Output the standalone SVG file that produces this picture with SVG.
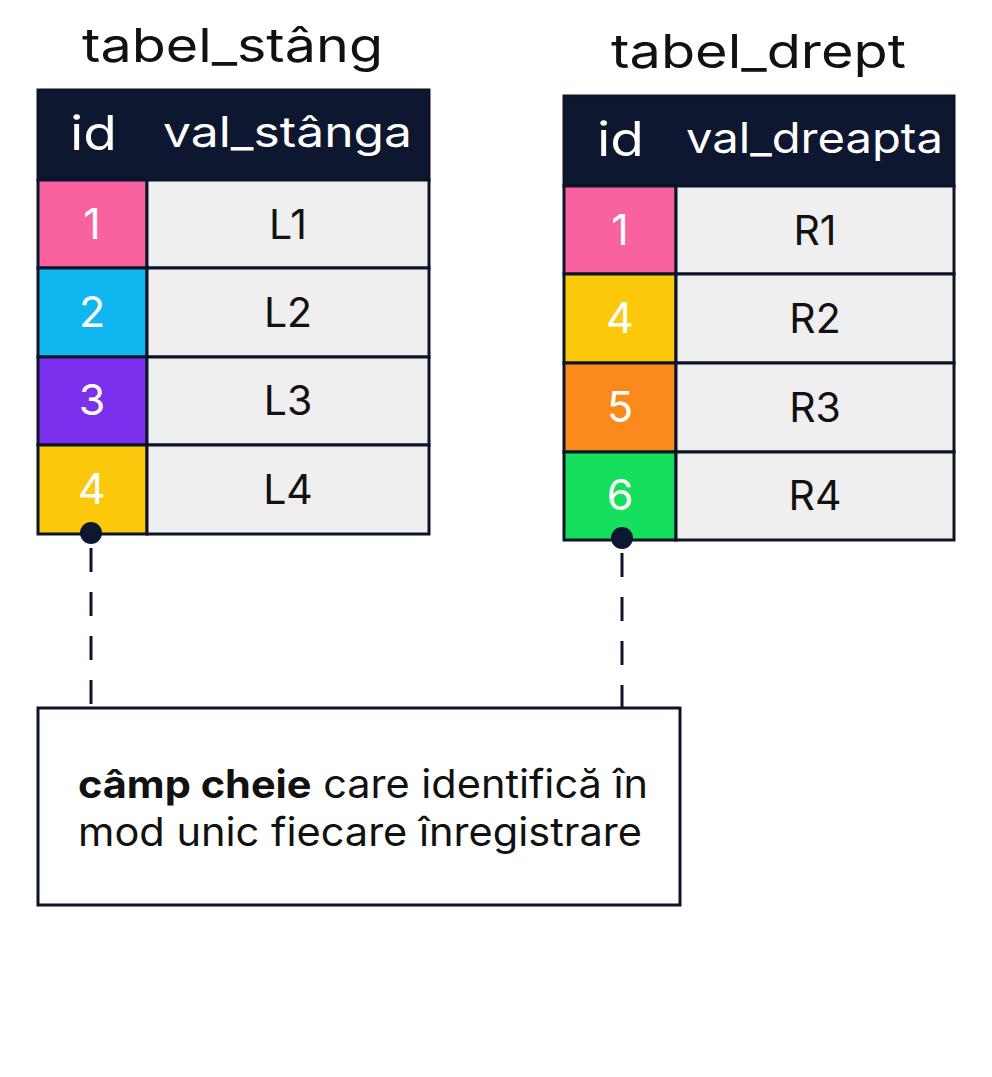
<svg xmlns="http://www.w3.org/2000/svg" width="992" height="1077" viewBox="0 0 992 1077">
<style>
.title{font-family:Inter,"Noto Sans",sans-serif;font-size:47px;fill:#111}
.hd{font-family:Inter,"Noto Sans",sans-serif;fill:#fff}
.num{font-family:Inter,"Noto Sans",sans-serif;font-size:43px;fill:#fff;text-anchor:middle}
.val{font-family:Inter,"Noto Sans",sans-serif;font-size:41px;fill:#111;text-anchor:middle}
.cell{stroke:#0b1428;stroke-width:3}
.note{font-family:Inter,"Noto Sans",sans-serif;font-size:39px;fill:#111}
.dash{stroke:#0b1428;stroke-width:3;stroke-dasharray:24 20;fill:none}
</style>
<rect width="992" height="1077" fill="#fff"/>
<g id="tabel_stang">
<text class="title" x="82" y="62" textLength="301" lengthAdjust="spacingAndGlyphs">tabel_stâng</text>
<rect class="cell" x="38" y="90" width="391" height="90" fill="#0d1730"/>
<text class="hd" x="70" y="150" font-size="48" textLength="47" lengthAdjust="spacingAndGlyphs">id</text>
<text class="hd" x="163" y="147" font-size="42" textLength="249" lengthAdjust="spacingAndGlyphs">val_stânga</text>
<rect class="cell" x="38" y="180" width="109" height="88" fill="#f7629f"/>
<rect class="cell" x="147" y="180" width="282" height="88" fill="#efefef"/>
<text class="num" x="92" y="239">1</text><text class="val" x="288" y="239">L1</text>
<rect class="cell" x="38" y="268" width="109" height="89" fill="#10b6ef"/>
<rect class="cell" x="147" y="268" width="282" height="89" fill="#efefef"/>
<text class="num" x="92" y="327">2</text><text class="val" x="288" y="327">L2</text>
<rect class="cell" x="38" y="357" width="109" height="88" fill="#7b30ee"/>
<rect class="cell" x="147" y="357" width="282" height="88" fill="#efefef"/>
<text class="num" x="92" y="415">3</text><text class="val" x="288" y="415">L3</text>
<rect class="cell" x="38" y="445" width="109" height="89" fill="#fcc80a"/>
<rect class="cell" x="147" y="445" width="282" height="89" fill="#efefef"/>
<text class="num" x="92" y="504">4</text><text class="val" x="288" y="504">L4</text>
</g>
<g id="tabel_drept">
<text class="title" x="611" y="68" textLength="295" lengthAdjust="spacingAndGlyphs">tabel_drept</text>
<rect class="cell" x="564" y="96" width="390" height="90" fill="#0d1730"/>
<text class="hd" x="597" y="156" font-size="48" textLength="47" lengthAdjust="spacingAndGlyphs">id</text>
<text class="hd" x="686" y="153" font-size="42" textLength="257" lengthAdjust="spacingAndGlyphs">val_dreapta</text>
<rect class="cell" x="564" y="186" width="112" height="88" fill="#f7629f"/>
<rect class="cell" x="676" y="186" width="278" height="88" fill="#efefef"/>
<text class="num" x="620" y="245">1</text><text class="val" x="815" y="245">R1</text>
<rect class="cell" x="564" y="274" width="112" height="89" fill="#fcc80a"/>
<rect class="cell" x="676" y="274" width="278" height="89" fill="#efefef"/>
<text class="num" x="620" y="333">4</text><text class="val" x="815" y="333">R2</text>
<rect class="cell" x="564" y="363" width="112" height="89" fill="#fb8a1c"/>
<rect class="cell" x="676" y="363" width="278" height="89" fill="#efefef"/>
<text class="num" x="620" y="422">5</text><text class="val" x="815" y="422">R3</text>
<rect class="cell" x="564" y="452" width="112" height="88" fill="#17df5e"/>
<rect class="cell" x="676" y="452" width="278" height="88" fill="#efefef"/>
<text class="num" x="620" y="510">6</text><text class="val" x="815" y="510">R4</text>
</g>
<g id="connectors">
<line class="dash" x1="91" y1="548" x2="91" y2="708"/>
<line class="dash" x1="622" y1="553" x2="622" y2="708"/>
<circle cx="91" cy="533" r="11" fill="#0d1730"/>
<circle cx="622" cy="538" r="11" fill="#0d1730"/>
</g>
<g id="nota">
<rect x="38" y="708" width="642" height="197" fill="#fff" stroke="#0b1428" stroke-width="3"/>
<text class="note" x="78" y="798" textLength="570" lengthAdjust="spacingAndGlyphs"><tspan font-weight="bold">câmp cheie</tspan> care identifică în</text>
<text class="note" x="78" y="846" textLength="564" lengthAdjust="spacingAndGlyphs">mod unic fiecare înregistrare</text>
</g>
</svg>
